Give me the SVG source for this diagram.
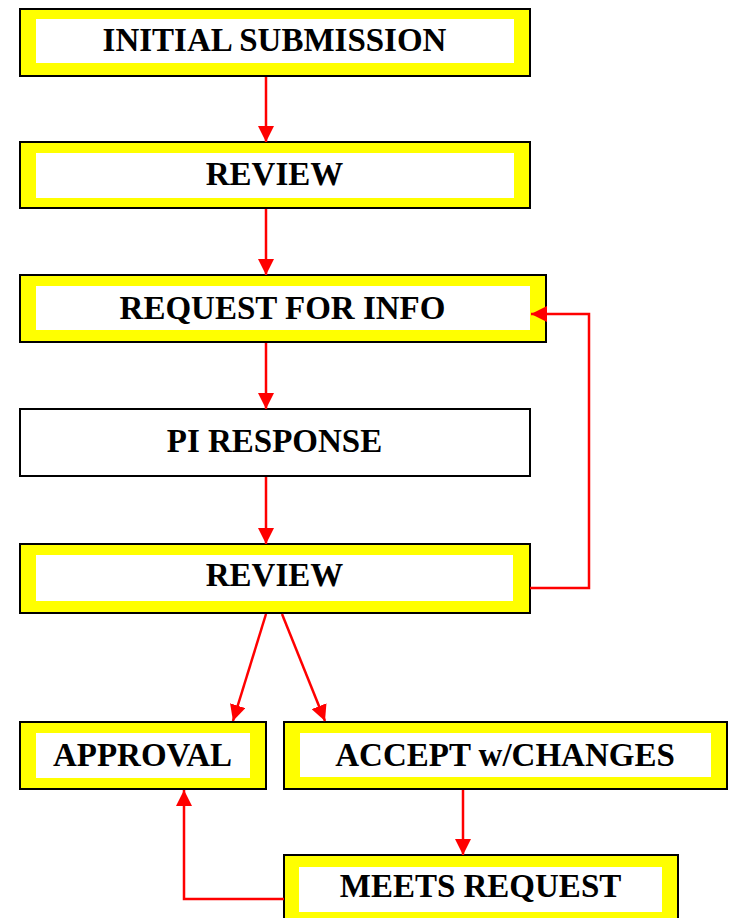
<svg xmlns="http://www.w3.org/2000/svg" width="729" height="918" viewBox="0 0 729 918">
<style>
.o{fill:#FFFF00;stroke:#000;stroke-width:2}
.s{fill:#aaa}
.i{fill:#fff}
.p{fill:#fff;stroke:#000;stroke-width:2}
.t{font-family:"Liberation Serif","Times New Roman",serif;font-weight:bold;font-size:33px;fill:#000;text-anchor:middle}
.c{fill:none;stroke:#FF0000;stroke-width:2.5}
</style>
<defs>
<marker id="ah" viewBox="0 0 16 16" refX="16" refY="8" markerWidth="16" markerHeight="16" markerUnits="userSpaceOnUse" orient="auto">
<path d="M0,0 L16,8 L0,16 z" fill="#FF0000"/>
</marker>
</defs>
<rect width="729" height="918" fill="#fff"/>
<g id="n1">
<rect class="s" x="21" y="11" width="510" height="66"/>
<rect class="o" x="20" y="9" width="510" height="67"/>
<rect class="i" x="36" y="19" width="478" height="44"/>
<text class="t" x="274.5" y="51">INITIAL SUBMISSION</text>
</g>
<g id="n2">
<rect class="s" x="21" y="144" width="510" height="65"/>
<rect class="o" x="20" y="142" width="510" height="66"/>
<rect class="i" x="36" y="153" width="478" height="45"/>
<text class="t" x="274.5" y="185">REVIEW</text>
</g>
<g id="n3">
<rect class="s" x="21" y="277" width="526" height="66"/>
<rect class="o" x="20" y="275" width="526" height="67"/>
<rect class="i" x="36" y="286" width="494" height="44"/>
<text class="t" x="282.5" y="319">REQUEST FOR INFO</text>
</g>
<g id="n4">
<rect class="s" x="21" y="411" width="510" height="66"/>
<rect class="p" x="20" y="409" width="510" height="67"/>
<text class="t" x="274.5" y="452">PI RESPONSE</text>
</g>
<g id="n5">
<rect class="s" x="21" y="546" width="510" height="68"/>
<rect class="o" x="20" y="544" width="510" height="69"/>
<rect class="i" x="36" y="555" width="477" height="46"/>
<text class="t" x="274.5" y="586">REVIEW</text>
</g>
<g id="n6">
<rect class="s" x="21" y="724" width="246" height="66"/>
<rect class="o" x="20" y="722" width="246" height="67"/>
<rect class="i" x="36" y="733" width="214" height="45"/>
<text class="t" x="142.5" y="766">APPROVAL</text>
</g>
<g id="n7">
<rect class="s" x="285" y="724" width="443" height="66"/>
<rect class="o" x="284" y="722" width="443" height="67"/>
<rect class="i" x="300" y="733" width="411" height="44"/>
<text class="t" x="505" y="766">ACCEPT w/CHANGES</text>
</g>
<g id="n8">
<rect class="s" x="285" y="857" width="394" height="70"/>
<rect class="o" x="284" y="855" width="394" height="70"/>
<rect class="i" x="299" y="867" width="363" height="45"/>
<text class="t" x="480.5" y="897">MEETS REQUEST</text>
</g>
<g id="connectors">
<line class="c" x1="266" y1="77" x2="266" y2="142" marker-end="url(#ah)"/>
<line class="c" x1="266" y1="209" x2="266" y2="275" marker-end="url(#ah)"/>
<line class="c" x1="266" y1="343" x2="266" y2="409" marker-end="url(#ah)"/>
<line class="c" x1="266" y1="477" x2="266" y2="544" marker-end="url(#ah)"/>
<polyline class="c" points="530,588 589,588 589,314 531,314" marker-end="url(#ah)"/>
<line class="c" x1="266" y1="614" x2="233" y2="721" marker-end="url(#ah)"/>
<line class="c" x1="282" y1="614" x2="325" y2="721" marker-end="url(#ah)"/>
<line class="c" x1="463" y1="790" x2="463" y2="855" marker-end="url(#ah)"/>
<polyline class="c" points="284,899 184,899 184,790" marker-end="url(#ah)"/>
</g>
</svg>
